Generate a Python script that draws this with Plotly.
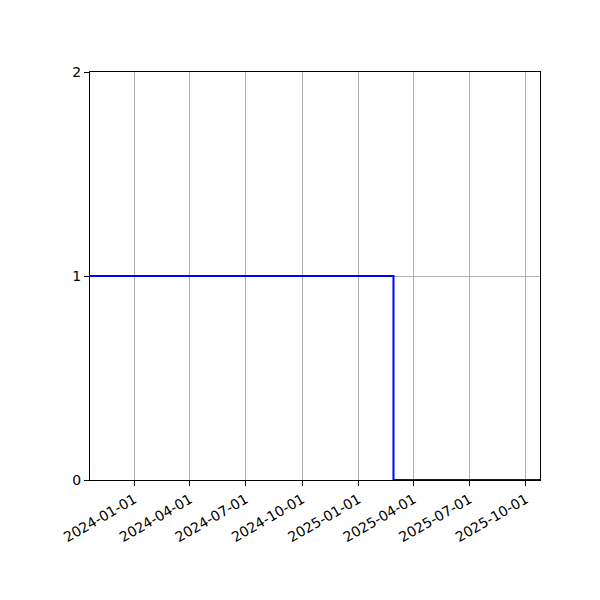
import plotly.graph_objects as go

# step series: 1 until the drop, then 0
dates = ["2023-10-21", "2025-02-27", "2025-10-24"]
values = [1, 0, 0]

tick_dates = ["2024-01-01", "2024-04-01", "2024-07-01", "2024-10-01",
              "2025-01-01", "2025-04-01", "2025-07-01", "2025-10-01"]
y_ticks = [0, 1, 2]

fig = go.Figure()

fig.add_trace(
    go.Scatter(
        x=dates,
        y=values,
        mode="lines",
        line=dict(color="blue", width=2, shape="hv"),
        showlegend=False
    )
)

axis_style = dict(
    showline=True,
    linecolor="black",
    linewidth=1,
    mirror=True,
    ticks="outside",
    ticklen=5,
    tickcolor="black",
    showgrid=True,
    gridcolor="#b0b0b0",
    gridwidth=1,
    zeroline=False,
    tickfont=dict(family="DejaVu Sans", size=14, color="black")
)

fig.update_layout(
    width=600,
    height=600,
    margin=dict(l=82, r=68, t=64, b=128),
    plot_bgcolor="white",
    paper_bgcolor="white",
    xaxis=dict(
        range=[dates[0], dates[-1]],
        tickvals=tick_dates,
        ticktext=tick_dates,
        tickangle=-30,
        **axis_style
    ),
    yaxis=dict(
        range=[0, 2],
        tickvals=y_ticks,
        **axis_style
    )
)

fig.write_html("out.html")
